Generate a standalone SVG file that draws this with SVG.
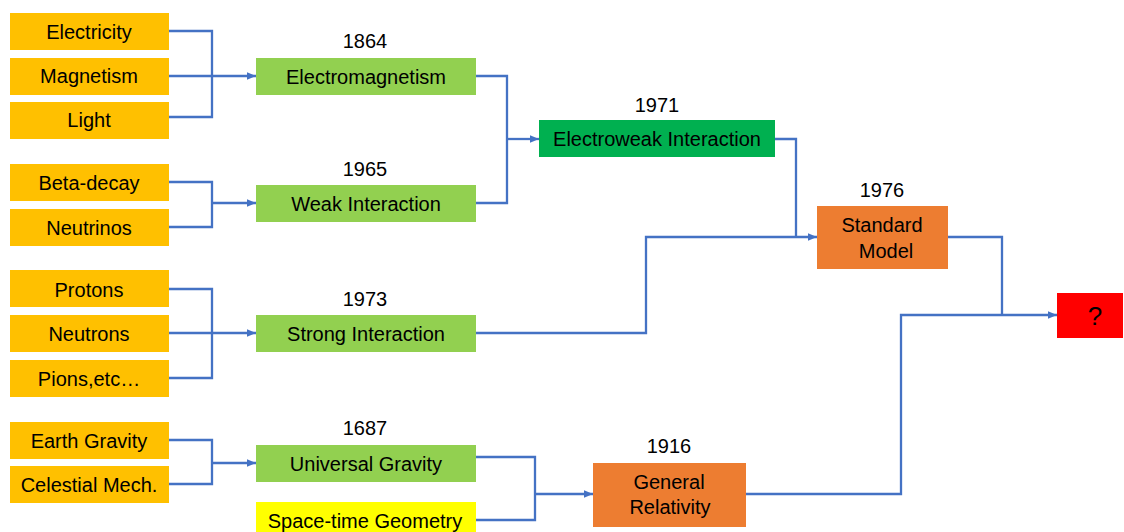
<svg xmlns="http://www.w3.org/2000/svg" width="1124" height="532" viewBox="0 0 1124 532">
<style>
text{font-family:"Liberation Sans",Arial,sans-serif;font-size:20px;fill:#000;text-anchor:middle}
.src{fill:#FFC000}
.lg{fill:#92D050}
.dg{fill:#00B050}
.or{fill:#ED7D31}
.rd{fill:#FF0000}
.yl{fill:#FFFF00}
.c{fill:none;stroke:#4472C4;stroke-width:2.3}
</style>
<defs>
<marker id="ah" markerUnits="userSpaceOnUse" markerWidth="10" markerHeight="10" refX="9" refY="5" orient="auto">
<path d="M0,1.3 L9,5 L0,8.7 Z" fill="#4472C4"/>
</marker>
</defs>
<rect width="1124" height="532" fill="#fff"/>
<g id="connectors">
<path class="c" d="M169,31 H212 V117 H169"/>
<path class="c" d="M169,76 H256" marker-end="url(#ah)"/>
<path class="c" d="M169,182 H212 V227 H169"/>
<path class="c" d="M212,203 H256" marker-end="url(#ah)"/>
<path class="c" d="M169,289 H212 V378 H169"/>
<path class="c" d="M169,333 H256" marker-end="url(#ah)"/>
<path class="c" d="M169,440 H212 V484 H169"/>
<path class="c" d="M212,463 H256" marker-end="url(#ah)"/>
<path class="c" d="M476,76 H507 V203 H476"/>
<path class="c" d="M507,139 H539" marker-end="url(#ah)"/>
<path class="c" d="M775,139 H796 V237"/>
<path class="c" d="M476,333 H646 V237 H817" marker-end="url(#ah)"/>
<path class="c" d="M948,237 H1002 V315"/>
<path class="c" d="M476,457 H535 V520 H476"/>
<path class="c" d="M535,494 H593" marker-end="url(#ah)"/>
<path class="c" d="M746,494 H901 V315 H1057" marker-end="url(#ah)"/>
</g>
<g id="electricity"><rect class="src" x="10" y="13" width="159" height="37"/><text x="89" y="39">Electricity</text></g>
<g id="magnetism"><rect class="src" x="10" y="58" width="159" height="37"/><text x="89" y="83">Magnetism</text></g>
<g id="light"><rect class="src" x="10" y="102" width="159" height="37"/><text x="89" y="127">Light</text></g>
<g id="beta-decay"><rect class="src" x="10" y="164" width="159" height="37"/><text x="89" y="190">Beta-decay</text></g>
<g id="neutrinos"><rect class="src" x="10" y="209" width="159" height="37"/><text x="89" y="235">Neutrinos</text></g>
<g id="protons"><rect class="src" x="10" y="270" width="159" height="37"/><text x="89" y="297">Protons</text></g>
<g id="neutrons"><rect class="src" x="10" y="315" width="159" height="37"/><text x="89" y="341">Neutrons</text></g>
<g id="pions"><rect class="src" x="10" y="360" width="159" height="37"/><text x="89" y="386">Pions,etc…</text></g>
<g id="earth-gravity"><rect class="src" x="10" y="422" width="159" height="37"/><text x="89" y="448">Earth Gravity</text></g>
<g id="celestial-mech"><rect class="src" x="10" y="466" width="159" height="37"/><text x="89" y="492">Celestial Mech.</text></g>
<g id="electromagnetism"><text x="365" y="48">1864</text><rect class="lg" x="256" y="58" width="220" height="37"/><text x="366" y="84">Electromagnetism</text></g>
<g id="weak-interaction"><text x="365" y="176">1965</text><rect class="lg" x="256" y="185" width="220" height="37"/><text x="366" y="211">Weak Interaction</text></g>
<g id="strong-interaction"><text x="365" y="306">1973</text><rect class="lg" x="256" y="315" width="220" height="37"/><text x="366" y="341">Strong Interaction</text></g>
<g id="universal-gravity"><text x="365" y="435">1687</text><rect class="lg" x="256" y="445" width="220" height="37"/><text x="366" y="471">Universal Gravity</text></g>
<g id="space-time-geometry"><rect class="yl" x="256" y="502" width="220" height="37"/><text x="365" y="528">Space-time Geometry</text></g>
<g id="electroweak-interaction"><text x="657" y="112">1971</text><rect class="dg" x="539" y="120" width="236" height="37"/><text x="657" y="146">Electroweak Interaction</text></g>
<g id="standard-model"><text x="882" y="197">1976</text><rect class="or" x="817" y="206" width="131" height="63"/><text x="882" y="232">Standard</text><text x="886" y="258">Model</text></g>
<g id="general-relativity"><text x="669" y="453">1916</text><rect class="or" x="593" y="463" width="153" height="64"/><text x="669" y="489">General</text><text x="670" y="514">Relativity</text></g>
<g id="unknown"><rect class="rd" x="1057" y="293" width="66" height="45"/><text x="1095" y="325" style="font-size:26px">?</text></g>
</svg>
